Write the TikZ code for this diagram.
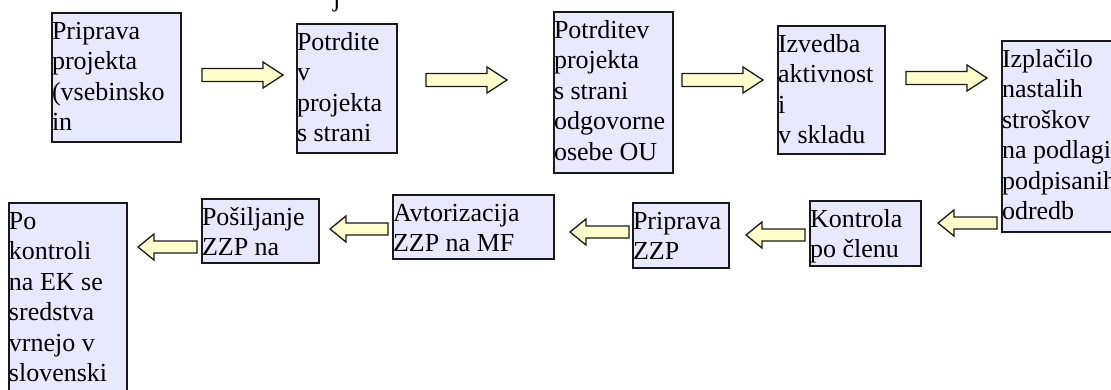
\documentclass[tikz,border=0pt]{standalone}
\usepackage{fontspec}
\setmainfont{Liberation Serif}
\definecolor{boxfill}{RGB}{232,232,255}
\definecolor{arrfill}{RGB}{255,255,204}
\newcommand\boxlines[3]{\parbox[t][#2pt][t]{#1pt}{\fontsize{26pt}{30.5pt}\selectfont\rule{0pt}{26pt}#3}}
\newcommand\rarr[3]{\draw[arrstyle] (#1,{#3-6.5}) -- ({#2-20},{#3-6.5}) -- ({#2-20},{#3-13}) -- (#2,#3) -- ({#2-20},{#3+13}) -- ({#2-20},{#3+6.5}) -- (#1,{#3+6.5}) -- cycle;}
\newcommand\larr[3]{\draw[arrstyle] (#2,{#3-6}) -- ({#1+16},{#3-6}) -- ({#1+16},{#3-13}) -- (#1,#3) -- ({#1+16},{#3+13}) -- ({#1+16},{#3+6}) -- (#2,{#3+6}) -- cycle;}
\tikzset{
  stepbox/.style={draw=black!90, line width=1.3pt, fill=boxfill, inner sep=0pt, outer sep=0pt, anchor=north west},
  arrstyle/.style={draw=black!90, line width=1.3pt, fill=arrfill, line join=miter},
}
\begin{document}
\begin{tikzpicture}[x=1pt,y=-1pt]
\useasboundingbox (0,0) rectangle (1111,389);
\clip (0,0) rectangle (1111,389);
% title fragment
\node[inner sep=0pt, anchor=base west, font=\fontsize{26pt}{30pt}\selectfont] (title) at (333,6) {j};
% top row
\node[stepbox] (b1) at (52,13) {\boxlines{129}{129}{Priprava\\projekta\\(vsebinsko\\in}};
\node[stepbox] (b2) at (297,24) {\boxlines{100}{129}{Potrdite\\v\\projekta\\s strani}};
\node[stepbox] (b3) at (554,12) {\boxlines{119}{161}{Potrditev\\projekta\\s strani\\odgovorne\\osebe OU}};
\node[stepbox] (b4) at (778,26) {\boxlines{107}{128}{Izvedba\\aktivnost\\i\\v skladu}};
\node[stepbox] (b5) at (1002,41) {\boxlines{130}{191}{Izplačilo\\nastalih\\stroškov\\na podlagi\\podpisanih\\odredb}};
% bottom row
\node[stepbox] (b6) at (810,201) {\boxlines{111}{65}{Kontrola\\po členu}};
\node[stepbox] (b7) at (633,203) {\boxlines{96}{65}{Priprava\\ZZP}};
\node[stepbox] (b8) at (393,195) {\boxlines{161}{64}{Avtorizacija\\ZZP na MF}};
\node[stepbox] (b9) at (202,199) {\boxlines{117}{64}{Pošiljanje\\ZZP na}};
\node[stepbox] (b10) at (9,203) {\boxlines{118}{210}{Po\\kontroli\\na EK se\\sredstva\\vrnejo v\\slovenski}};
% block arrows
\rarr{202}{283}{75}
\rarr{426}{507}{80}
\rarr{682}{763}{80}
\rarr{906}{987}{78}
\larr{938}{997}{223}
\larr{746}{805}{235}
\larr{570}{629}{232}
\larr{330}{388}{229}
\larr{138}{197}{247}
\end{tikzpicture}
\end{document}
